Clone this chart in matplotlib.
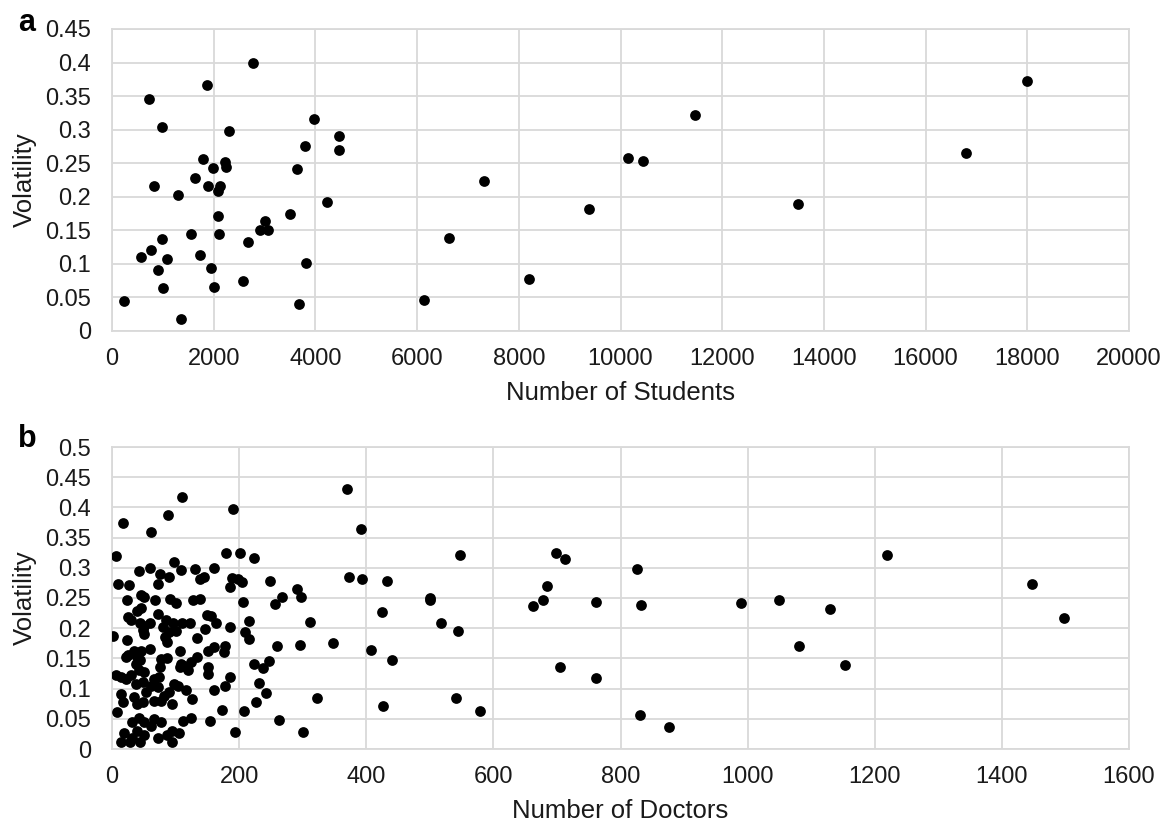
import numpy as np
import matplotlib.pyplot as plt
from matplotlib.ticker import MultipleLocator, FuncFormatter

plt.rcParams['font.family'] = ['Liberation Sans', 'DejaVu Sans']

# ── (a) volatility vs. number of students ──
students = [
    2780, 1873, 727, 989, 3975, 2305, 4466, 3805, 4460, 1781,
    2213, 2233, 1978, 3641, 1637, 825, 1892, 2122, 2083, 1297,
    4237, 2083, 3503, 3000, 2914, 3059, 1559, 2102, 989, 2679,
    760, 577, 1074, 1735, 3818, 904, 1952, 1002, 1997, 2567,
    242, 3680, 1356, 7308, 6621, 6130, 8199, 9371, 10157, 10452,
    11468, 13498, 16791, 17992,
]
vol_students = [
    0.400, 0.367, 0.345, 0.304, 0.316, 0.298, 0.291, 0.275, 0.269, 0.257,
    0.252, 0.244, 0.243, 0.241, 0.228, 0.216, 0.216, 0.216, 0.209, 0.202,
    0.192, 0.171, 0.174, 0.164, 0.150, 0.151, 0.145, 0.145, 0.137, 0.132,
    0.120, 0.111, 0.108, 0.113, 0.102, 0.091, 0.094, 0.064, 0.066, 0.074,
    0.044, 0.040, 0.018, 0.224, 0.138, 0.046, 0.077, 0.182, 0.258, 0.254,
    0.322, 0.189, 0.265, 0.372,
]

# ── (b) volatility vs. number of doctors ──
doctors = [
    110, 18, 88, 62, 190, 6, 179, 201, 224, 42,
    60, 76, 90, 97, 109, 131, 139, 144, 160, 189,
    198, 205, 9, 27, 73, 186, 249, 370, 391, 373,
    393, 433, 291, 297, 267, 256, 501, 501, 425, 518,
    216, 311, 216, 259, 296, 348, 407, 441, 223, 247,
    238, 231, 242, 226, 323, 426, 263, 301, 548, 545,
    541, 579, 698, 712, 685, 678, 662, 762, 705, 761,
    826, 832, 830, 877, 989, 1049, 1130, 1081, 1153, 1220,
    1448, 1497,
    23, 45, 50, 68, 91, 100, 127, 139, 206, 45,
    40, 73, 85, 149, 155, 164, 25, 30, 44, 51,
    60, 96, 110, 123, 80, 90, 101, 147, 185, 210,
    1, 48, 50, 23, 84, 87, 134, 107, 35, 45,
    60, 25, 22, 40, 38, 44, 77, 87, 151, 160,
    178, 176, 124, 134, 75, 107, 119, 113, 151, 151,
    6, 14, 22, 30, 43, 51, 38, 48, 66, 74,
    61, 72, 97, 104, 116, 186, 178, 160, 14, 17,
    35, 40, 53, 48, 66, 77, 82, 90, 95, 126,
    173, 207, 8, 32, 43, 51, 66, 61, 77, 124,
    154, 87, 95, 106, 194, 19, 14, 32, 29, 44,
    73, 95, 40, 51, 109, 112,
]
vol_doctors = [
    0.418, 0.375, 0.387, 0.359, 0.397, 0.320, 0.324, 0.325, 0.316, 0.294,
    0.299, 0.289, 0.285, 0.310, 0.296, 0.298, 0.281, 0.284, 0.300, 0.283,
    0.281, 0.276, 0.274, 0.271, 0.274, 0.268, 0.278, 0.431, 0.365, 0.284,
    0.282, 0.278, 0.265, 0.252, 0.252, 0.240, 0.250, 0.246, 0.227, 0.209,
    0.212, 0.210, 0.182, 0.171, 0.172, 0.176, 0.164, 0.148, 0.141, 0.146,
    0.134, 0.110, 0.092, 0.078, 0.084, 0.071, 0.048, 0.028, 0.322, 0.196,
    0.085, 0.063, 0.325, 0.315, 0.270, 0.246, 0.237, 0.243, 0.135, 0.118,
    0.298, 0.238, 0.057, 0.036, 0.241, 0.246, 0.232, 0.170, 0.139, 0.322,
    0.273, 0.217,
    0.246, 0.255, 0.252, 0.246, 0.249, 0.241, 0.247, 0.248, 0.244, 0.233,
    0.229, 0.224, 0.213, 0.222, 0.220, 0.208, 0.219, 0.214, 0.208, 0.203,
    0.208, 0.209, 0.209, 0.209, 0.202, 0.194, 0.195, 0.199, 0.202, 0.194,
    0.187, 0.197, 0.191, 0.180, 0.186, 0.177, 0.183, 0.163, 0.163, 0.163,
    0.165, 0.155, 0.152, 0.152, 0.141, 0.147, 0.149, 0.151, 0.163, 0.169,
    0.170, 0.161, 0.144, 0.153, 0.136, 0.136, 0.130, 0.138, 0.136, 0.124,
    0.122, 0.119, 0.116, 0.122, 0.130, 0.127, 0.108, 0.111, 0.116, 0.119,
    0.105, 0.102, 0.108, 0.105, 0.097, 0.120, 0.105, 0.097, 0.091, 0.077,
    0.086, 0.074, 0.094, 0.077, 0.080, 0.080, 0.088, 0.094, 0.074, 0.083,
    0.064, 0.063, 0.061, 0.044, 0.052, 0.044, 0.049, 0.038, 0.044, 0.052,
    0.047, 0.024, 0.030, 0.027, 0.028, 0.027, 0.011, 0.019, 0.011, 0.011,
    0.019, 0.012, 0.030, 0.024, 0.140, 0.046,
]

GRID = '#d9d9d9'
TEXT = '#1a1a1a'


def style_axis(ax, xmax, xstep, ymax, xlabel):
    ax.set_xlim(0, xmax)
    ax.set_ylim(0, ymax)
    ax.xaxis.set_major_locator(MultipleLocator(xstep))
    ax.yaxis.set_major_locator(MultipleLocator(0.05))
    ax.yaxis.set_major_formatter(FuncFormatter(lambda v, _: f'{round(v, 2):g}'))
    ax.grid(True, color=GRID, linewidth=1.3)
    ax.set_axisbelow(True)
    for sp in ax.spines.values():
        sp.set_color(GRID)
        sp.set_linewidth(1.3)
    ax.tick_params(length=0, labelsize=17, colors=TEXT)
    ax.tick_params(axis='y', pad=15)
    ax.tick_params(axis='x', pad=12)
    ax.set_xlabel(xlabel, fontsize=18.5, color=TEXT, labelpad=8)
    ax.set_ylabel('Volatility', fontsize=18.5, color=TEXT, labelpad=6)


fig = plt.figure(figsize=(11.73, 8.25), dpi=100)
W, H = 1173, 825
ax_a = fig.add_axes([112 / W, 1 - 331 / H, 1017 / W, 302 / H])
ax_b = fig.add_axes([112 / W, 1 - 749 / H, 1017 / W, 302 / H])

ax_a.scatter(students, vol_students, s=60, color='black', zorder=3, linewidths=0)
style_axis(ax_a, 20000, 2000, 0.45, 'Number of Students')

ax_b.scatter(doctors, vol_doctors, s=60, color='black', zorder=3, linewidths=0)
style_axis(ax_b, 1600, 200, 0.5, 'Number of Doctors')

fig.text(18 / W, 1 - 31 / H, 'a', fontsize=22, fontweight='bold', va='baseline')
fig.text(18 / W, 1 - 447 / H, 'b', fontsize=22, fontweight='bold', va='baseline')

fig.savefig('out.png', dpi=100)
